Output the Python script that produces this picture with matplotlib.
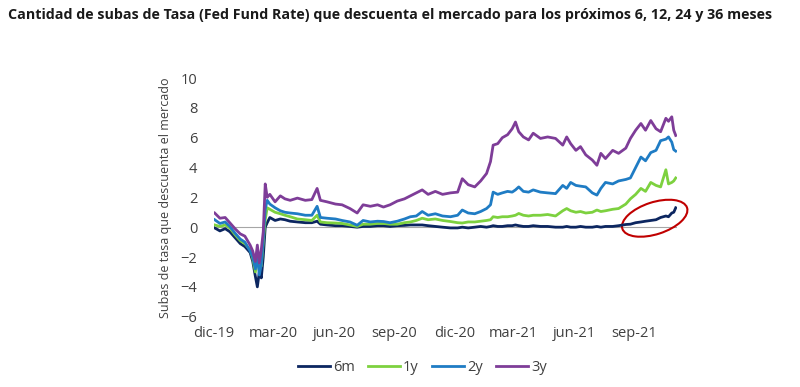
import matplotlib
matplotlib.use("Agg")
import matplotlib.pyplot as plt
import matplotlib.dates as mdates
import pandas as pd
from matplotlib.patches import Ellipse
from matplotlib.transforms import ScaledTranslation

plt.rcParams["font.family"] = ["Open Sans", "DejaVu Sans"]

TITLE = "Cantidad de subas de Tasa (Fed Fund Rate) que descuenta el mercado para los próximos 6, 12, 24 y 36 meses"
YLABEL = "Subas de tasa que descuenta el mercado"

dates = pd.to_datetime([
    "2019-12-02", "2019-12-10", "2019-12-18", "2019-12-25", "2020-01-02", "2020-01-10",
    "2020-01-17", "2020-01-25", "2020-01-29", "2020-02-02", "2020-02-05", "2020-02-08",
    "2020-02-11", "2020-02-14", "2020-02-17", "2020-02-20", "2020-02-24", "2020-03-03",
    "2020-03-11", "2020-03-18", "2020-03-26", "2020-04-06", "2020-04-18", "2020-04-28",
    "2020-05-06", "2020-05-11", "2020-05-21", "2020-06-03", "2020-06-13", "2020-06-25",
    "2020-07-06", "2020-07-15", "2020-07-26", "2020-08-06", "2020-08-15", "2020-08-25",
    "2020-09-05", "2020-09-16", "2020-09-25", "2020-10-04", "2020-10-13", "2020-10-22",
    "2020-11-02", "2020-11-13", "2020-11-25", "2020-12-06", "2020-12-13", "2020-12-22",
    "2021-01-01", "2021-01-10", "2021-01-19", "2021-01-25", "2021-01-29", "2021-02-05",
    "2021-02-12", "2021-02-20", "2021-02-27", "2021-03-04", "2021-03-09", "2021-03-16",
    "2021-03-24", "2021-03-31", "2021-04-11", "2021-04-22", "2021-05-04", "2021-05-15",
    "2021-05-21", "2021-05-27", "2021-06-04", "2021-06-11", "2021-06-19", "2021-06-29",
    "2021-07-06", "2021-07-12", "2021-07-19", "2021-07-30", "2021-08-08", "2021-08-19",
    "2021-08-26", "2021-09-03", "2021-09-11", "2021-09-18", "2021-09-26", "2021-10-04",
    "2021-10-11", "2021-10-19", "2021-10-23", "2021-10-28", "2021-10-31", "2021-11-03",
])

m6 = [
    -0.05, -0.25, -0.1, -0.3, -0.7, -1.1, -1.3, -1.7, -2.3, -3.3, -4.0, -3.0,
    -3.4, -2.0, 0.0, 0.3, 0.65, 0.45, 0.55, 0.5, 0.4, 0.35, 0.3, 0.3,
    0.4, 0.2, 0.15, 0.1, 0.1, 0.05, 0.0, 0.05, 0.05, 0.1, 0.1, 0.05,
    0.1, 0.12, 0.15, 0.15, 0.15, 0.1, 0.05, 0.0, -0.05, -0.05, 0.0, -0.05,
    0.0, 0.05, 0.0, 0.05, 0.1, 0.05, 0.05, 0.1, 0.1, 0.15, 0.1, 0.05,
    0.05, 0.1, 0.05, 0.05, 0.0, 0.0, 0.05, 0.0, 0.0, 0.05, 0.0, 0.0,
    0.05, 0.0, 0.05, 0.05, 0.1, 0.18, 0.2, 0.3, 0.35, 0.4, 0.45, 0.5,
    0.65, 0.75, 0.7, 0.95, 1.0, 1.3,
]
y1 = [
    0.15, 0.05, 0.15, -0.05, -0.5, -0.9, -1.1, -1.5, -2.1, -3.0, -2.2, -2.7,
    -2.6, -1.0, 0.5, 1.3, 1.2, 1.0, 0.9, 0.8, 0.7, 0.55, 0.5, 0.45,
    0.8, 0.35, 0.3, 0.28, 0.25, 0.15, 0.05, 0.2, 0.2, 0.25, 0.25, 0.2,
    0.2, 0.3, 0.35, 0.45, 0.6, 0.5, 0.55, 0.45, 0.38, 0.3, 0.28, 0.35,
    0.35, 0.4, 0.45, 0.5, 0.7, 0.65, 0.7, 0.7, 0.75, 0.8, 0.92, 0.8,
    0.75, 0.8, 0.8, 0.85, 0.75, 1.1, 1.25, 1.1, 1.0, 1.05, 0.95, 1.0,
    1.15, 1.05, 1.1, 1.2, 1.25, 1.55, 1.9, 2.2, 2.6, 2.4, 3.0, 2.8,
    2.7, 3.85, 2.9, 3.0, 3.1, 3.3,
]
y2 = [
    0.5, 0.25, 0.35, 0.05, -0.4, -0.8, -1.0, -1.6, -2.0, -2.8, -1.9, -3.2,
    -2.5, -0.8, 1.2, 1.8, 1.55, 1.3, 1.1, 1.0, 0.95, 0.9, 0.8, 0.8,
    1.4, 0.65, 0.6, 0.55, 0.45, 0.35, 0.13, 0.45, 0.35, 0.4, 0.38, 0.3,
    0.4, 0.55, 0.7, 0.75, 1.05, 0.8, 0.9, 0.75, 0.7, 0.8, 1.15, 0.95,
    0.9, 1.05, 1.25, 1.5, 2.35, 2.2, 2.3, 2.4, 2.35, 2.5, 2.7, 2.4,
    2.35, 2.5, 2.35, 2.3, 2.25, 2.8, 2.6, 3.0, 2.8, 2.75, 2.7, 2.3,
    2.15, 2.6, 3.0, 2.9, 3.1, 3.2, 3.3, 4.0, 4.7, 4.45, 5.0, 5.15,
    5.8, 5.9, 6.05, 5.7, 5.2, 5.1,
]
y3 = [
    0.95, 0.6, 0.65, 0.3, -0.1, -0.45, -0.6, -1.2, -1.6, -2.3, -1.2, -2.4,
    -1.5, -0.3, 2.9, 2.0, 2.2, 1.7, 2.1, 1.9, 1.8, 1.95, 1.8, 1.85,
    2.6, 1.8, 1.7, 1.55, 1.5, 1.25, 0.95, 1.5, 1.4, 1.5, 1.35, 1.5,
    1.75, 1.9, 2.1, 2.3, 2.5, 2.2, 2.4, 2.2, 2.3, 2.35, 3.25, 2.85,
    2.7, 3.1, 3.6, 4.4, 5.5, 5.6, 6.0, 6.2, 6.6, 7.05, 6.4, 6.05,
    5.85, 6.3, 5.95, 6.05, 5.95, 5.5, 6.05, 5.6, 5.15, 5.4, 4.85, 4.5,
    4.15, 4.95, 4.6, 5.15, 4.95, 5.3, 5.95, 6.5, 6.95, 6.5, 7.15, 6.6,
    6.4, 7.3, 7.1, 7.4, 6.5, 6.15,
]

series = [("6m", m6, "#0c2660"), ("1y", y1, "#7dd13f"),
          ("2y", y2, "#1f7cc4"), ("3y", y3, "#7e3d98")]

tick_dates = pd.date_range("2019-12-01", "2021-09-01", freq="3MS")
month_es = {1: "ene", 3: "mar", 6: "jun", 9: "sep", 12: "dic"}
tick_labels = [f"{month_es[d.month]}-{d.strftime('%y')}" for d in tick_dates]

fig = plt.figure(figsize=(8, 3.87), dpi=100)
ax = fig.add_axes([0.2675, 0.1817, 0.5788, 0.6167])

ax.axhline(0, color="#a6a6a6", lw=0.8, zorder=1)
for name, vals, color in series:
    ax.plot(dates, vals, color=color, lw=2.0, label=name, zorder=2)

ax.set_xlim(pd.Timestamp("2019-12-01"), pd.Timestamp("2021-11-05"))
ax.set_ylim(-6, 10)
ax.set_yticks(range(-6, 11, 2))
ax.set_xticks(tick_dates)
ax.set_xticklabels(tick_labels)
for s in ax.spines.values():
    s.set_visible(False)
ax.tick_params(axis="both", length=0, labelsize=10.5, colors="#404040")
ax.tick_params(axis="y", pad=12)
ax.tick_params(axis="x", pad=7)
ax.set_ylabel(YLABEL, fontsize=9, color="#404040", labelpad=6)

# circle around the recent 6m move
center = (mdates.date2num(pd.Timestamp("2021-10-02")), 0.6)
ell = Ellipse((0, 0), width=0.68, height=0.32, angle=18, fill=False,
              edgecolor="#c00000", lw=1.5, clip_on=False,
              transform=fig.dpi_scale_trans + ScaledTranslation(*center, ax.transData))
ax.add_patch(ell)

fig.legend(loc="center", bbox_to_anchor=(0.528, 0.05), ncol=4, frameon=False,
           fontsize=10.5, labelcolor="#404040", handlelength=2.2,
           handletextpad=0.2, columnspacing=0.9)

fig.text(0.01, 0.96, TITLE, fontsize=10.3, fontweight="bold", color="#1a1a1a",
         va="center")

fig.savefig("out.png", dpi=100)
